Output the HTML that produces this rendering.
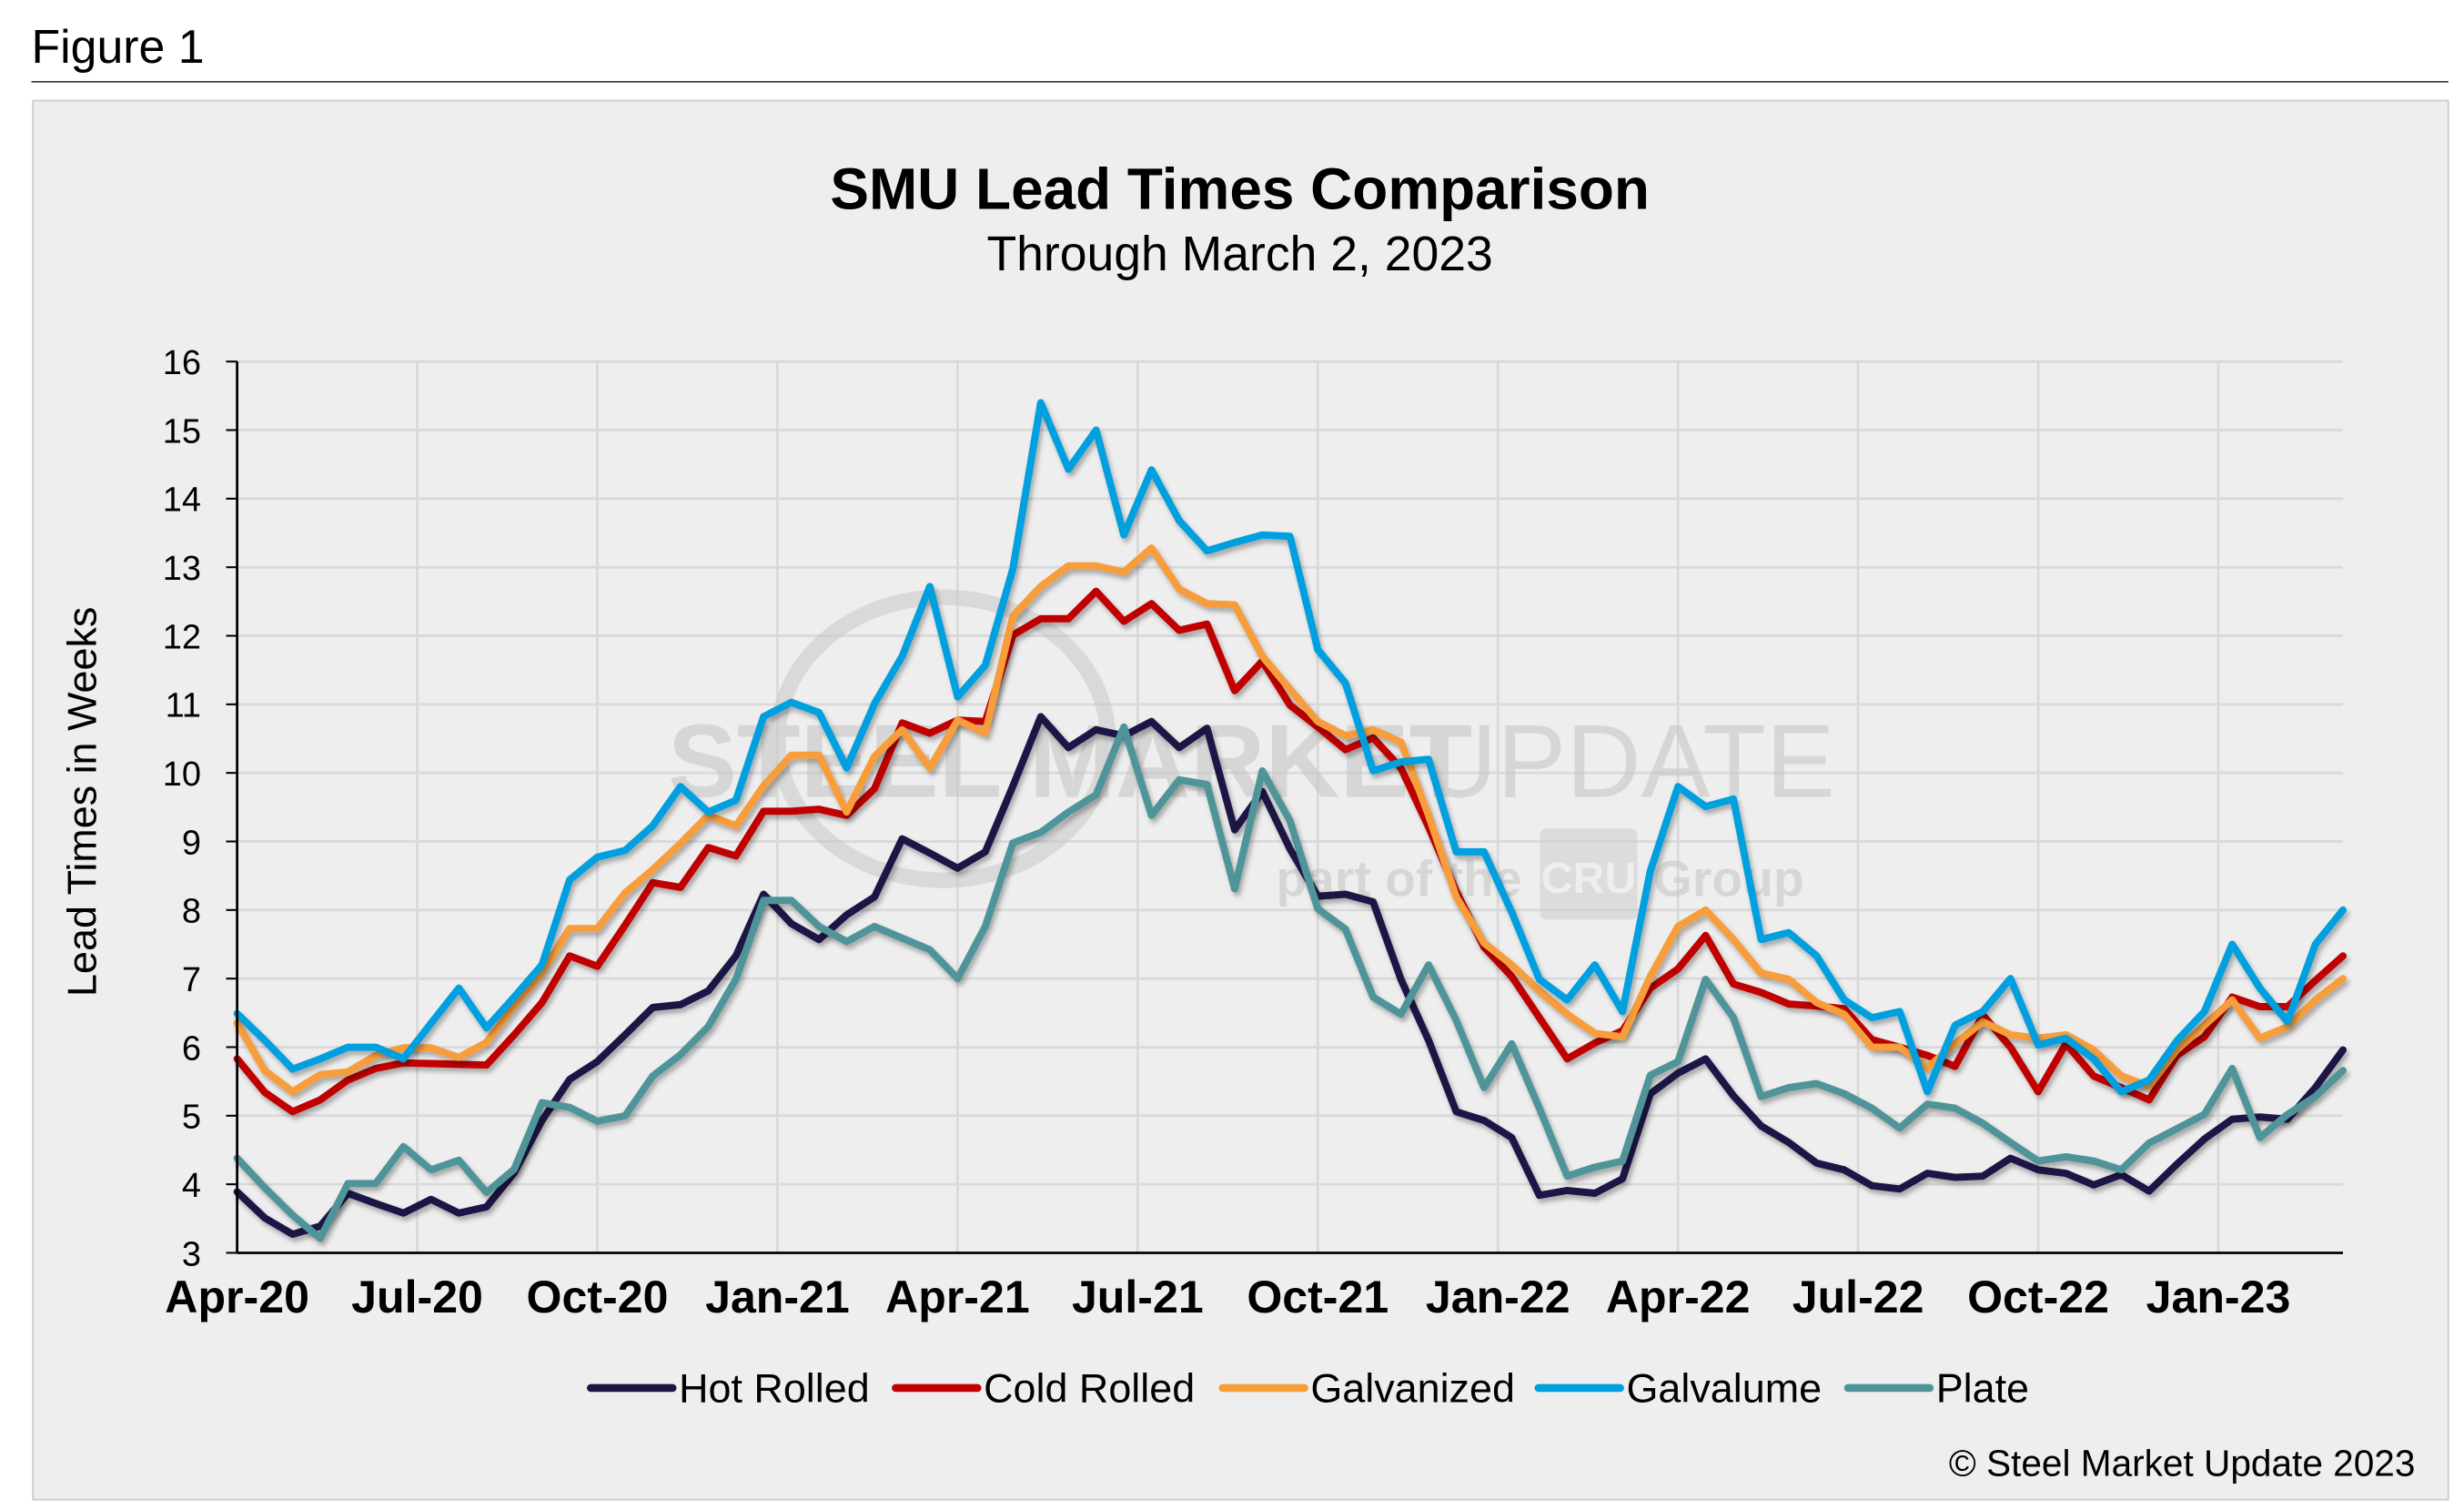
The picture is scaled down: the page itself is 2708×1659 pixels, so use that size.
<!DOCTYPE html>
<html><head><meta charset="utf-8"><style>
html,body{margin:0;padding:0;background:#fff;}
svg{display:block;}
text{font-family:"Liberation Sans",Arial,sans-serif;}
</style></head><body>
<svg id="chart" width="2708" height="1659" viewBox="0 0 1568 960.6" preserveAspectRatio="none" xmlns="http://www.w3.org/2000/svg">
<defs><filter id="sh" x="-5%" y="-5%" width="110%" height="120%"><feDropShadow dx="1.5" dy="2.5" stdDeviation="1.5" flood-color="#000" flood-opacity="0.3"/></filter></defs>
<text x="20" y="40" font-size="30" fill="#000">Figure 1</text>
<line x1="20" y1="52" x2="1558" y2="52" stroke="#333" stroke-width="1"/>
<rect x="21" y="64" width="1537" height="890" fill="#eeeeee" stroke="#d0d0d0" stroke-width="1.2"/>
<text x="789" y="133" font-size="37" font-weight="bold" text-anchor="middle">SMU Lead Times Comparison</text>
<text x="789" y="172" font-size="31" text-anchor="middle">Through March 2, 2023</text>
<g id="grid"></g>
<g id="watermark" opacity="0.55">
<ellipse cx="600" cy="470" rx="105" ry="90" fill="none" stroke="#c8c8c8" stroke-width="10"/>
<text x="425" y="507" font-size="66" font-weight="bold" fill="#c4c4c4">STEEL MARKET</text>
<text x="905" y="507" font-size="66" fill="#c4c4c4">UPDATE</text>
<text x="812" y="570" font-size="32" font-weight="bold" fill="#c4c4c4">part of the</text>
<rect x="980" y="527" width="62" height="58" rx="4" fill="#cfcfcf"/>
<text x="1011" y="568" font-size="28" font-weight="bold" fill="#eee" text-anchor="middle">CRU</text>
<text x="1052" y="570" font-size="32" font-weight="bold" fill="#c4c4c4">Group</text>
</g>
<g id="series"></g>
<g id="axes"></g>
<text transform="translate(61,510) rotate(-90)" font-size="26" text-anchor="middle">Lead Times in Weeks</text>
<g id="legend"></g>
<text x="1537" y="939" font-size="23.5" text-anchor="end">© Steel Market Update 2023</text>
</svg>
<script>
const NS="http://www.w3.org/2000/svg";
const xTickLabels=["Apr-20","Jul-20","Oct-20","Jan-21","Apr-21","Jul-21","Oct-21","Jan-22","Apr-22","Jul-22","Oct-22","Jan-23"];
const yTicks=[3,4,5,6,7,8,9,10,11,12,13,14,15,16];
const seriesNames=["Hot Rolled","Cold Rolled","Galvanized","Galvalume","Plate"];
const seriesColors=["#1f1646","#c00000","#f79d3a","#009fdf","#4f9499"];
const hotRolled=[3.89,3.51,3.27,3.39,3.87,3.72,3.58,3.78,3.58,3.67,4.17,4.93,5.53,5.79,6.18,6.58,6.62,6.82,7.33,8.23,7.8,7.57,7.93,8.19,9.04,8.83,8.61,8.85,9.81,10.82,10.37,10.63,10.54,10.75,10.37,10.65,9.17,9.73,8.89,8.2,8.23,8.12,6.99,6.1,5.06,4.93,4.68,3.84,3.91,3.87,4.08,5.32,5.62,5.83,5.29,4.85,4.61,4.31,4.21,3.98,3.93,4.16,4.1,4.12,4.38,4.21,4.16,3.99,4.14,3.9,4.29,4.66,4.95,4.98,4.95,5.41,5.96];
const coldRolled=[5.83,5.34,5.06,5.23,5.52,5.69,5.77,5.76,5.75,5.74,6.18,6.65,7.33,7.18,7.78,8.4,8.33,8.91,8.79,9.44,9.44,9.47,9.38,9.77,10.73,10.58,10.77,10.75,12.01,12.25,12.25,12.65,12.21,12.47,12.08,12.17,11.2,11.63,10.99,10.67,10.34,10.51,10.07,9.21,8.27,7.46,7.03,6.43,5.83,6.06,6.24,6.86,7.14,7.63,6.92,6.8,6.63,6.6,6.56,6.11,6.0,5.88,5.72,6.47,6.0,5.35,6.05,5.58,5.41,5.23,5.88,6.15,6.73,6.59,6.59,6.97,7.33];
const galvanized=[6.35,5.66,5.35,5.6,5.64,5.88,5.99,5.99,5.85,6.07,6.6,7.09,7.73,7.73,8.25,8.59,8.97,9.38,9.23,9.81,10.26,10.26,9.43,10.24,10.63,10.07,10.77,10.58,12.29,12.72,13.02,13.02,12.93,13.28,12.68,12.47,12.45,11.7,11.22,10.75,10.54,10.63,10.45,9.38,8.19,7.52,7.2,6.82,6.48,6.2,6.15,7.03,7.76,8.0,7.57,7.08,6.99,6.65,6.48,6.0,6.0,5.7,6.05,6.37,6.18,6.13,6.18,5.96,5.58,5.43,5.96,6.32,6.69,6.13,6.3,6.69,7.0];
const galvalume=[6.49,6.1,5.68,5.83,6.0,6.0,5.83,6.35,6.86,6.28,6.73,7.2,8.44,8.77,8.87,9.23,9.8,9.43,9.6,10.82,11.03,10.88,10.07,11.01,11.7,12.72,11.11,11.57,12.98,15.4,14.43,15.0,13.47,14.42,13.68,13.24,13.36,13.47,13.45,11.8,11.31,10.03,10.16,10.2,8.85,8.85,7.97,6.99,6.69,7.2,6.52,8.57,9.8,9.51,9.62,7.57,7.67,7.33,6.69,6.43,6.52,5.35,6.32,6.52,7.0,6.03,6.13,5.83,5.35,5.52,6.09,6.52,7.5,6.86,6.37,7.5,8.0];
const plate=[4.38,3.95,3.55,3.21,4.01,4.01,4.55,4.21,4.35,3.88,4.22,5.19,5.12,4.92,5.0,5.58,5.89,6.3,6.99,8.14,8.14,7.76,7.54,7.76,7.59,7.42,7.0,7.76,8.98,9.13,9.43,9.68,10.67,9.38,9.9,9.83,8.31,10.03,9.3,8.02,7.72,6.73,6.48,7.2,6.39,5.41,6.05,5.11,4.12,4.25,4.34,5.59,5.79,6.99,6.43,5.28,5.41,5.47,5.32,5.11,4.82,5.17,5.11,4.89,4.61,4.34,4.4,4.34,4.21,4.6,4.81,5.02,5.69,4.68,5.02,5.28,5.66];
const seriesData=[hotRolled,coldRolled,galvanized,galvalume,plate];

const X0=150.9, X1=1491, Y0=797, Y1=230;
const nPts=hotRolled.length;
function xScale(i){return X0+(X1-X0)*i/(nPts-1);}
function yScale(v){return Y0-(v-3)/(16-3)*(Y0-Y1);}
function mk(tag,attrs,parent){const e=document.createElementNS(NS,tag);for(const k in attrs)e.setAttribute(k,attrs[k]);parent.appendChild(e);return e;}

const grid=document.getElementById('grid'), axes=document.getElementById('axes'), ser=document.getElementById('series'), leg=document.getElementById('legend');
yTicks.forEach(v=>{
  const y=yScale(v);
  if(v>3){const g=mk('line',{x1:X0,x2:X1,y1:y,y2:y,stroke:'#d9d9d9','stroke-width':1.6},grid);
  
  }
  const t=mk('line',{x1:X0-7,x2:X0,y1:y,y2:y,stroke:'#000','stroke-width':1.2},axes);
  
  
  const l=mk('text',{x:128,y:y+8,'font-size':22,'text-anchor':'end'},axes);
  l.textContent=v;
  
  
});
xTickLabels.forEach((s,k)=>{
  const x=xScale(k*6.5);
  if(k>0){const g=mk('line',{x1:x,x2:x,y1:Y1,y2:Y0,stroke:'#d9d9d9','stroke-width':1.6},grid);
  
  }
  const l=mk('text',{x:x,y:835,'font-size':29,'font-weight':'bold','text-anchor':'middle'},axes);
  l.textContent=s;
  
  
});
const ya=mk('line',{x1:X0,x2:X0,y1:Y1,y2:Y0,stroke:'#000','stroke-width':1.6},axes);


const xa=mk('line',{x1:X0,x2:X1,y1:Y0,y2:Y0,stroke:'#000','stroke-width':1.6},axes);



seriesData.forEach((d,s)=>{
  const pts=d.map((v,i)=>xScale(i).toFixed(1)+','+yScale(v).toFixed(1)).join(' ');
  const p=mk('polyline',{points:pts,fill:'none',stroke:seriesColors[s],'stroke-width':4.6,'stroke-linejoin':'round','stroke-linecap':'round',filter:'url(#sh)'},ser);
  
  
});

const legX=[374,568,776,977,1174];
seriesNames.forEach((n,s)=>{
  const g=mk('g',{},leg);
  
  
  mk('line',{x1:legX[s]+2,x2:legX[s]+54,y1:883,y2:883,stroke:seriesColors[s],'stroke-width':5,'stroke-linecap':'round'},g);
  const t=mk('text',{x:legX[s]+58,y:892,'font-size':26},g);
  t.textContent=n;
});
</script>
</body></html>
